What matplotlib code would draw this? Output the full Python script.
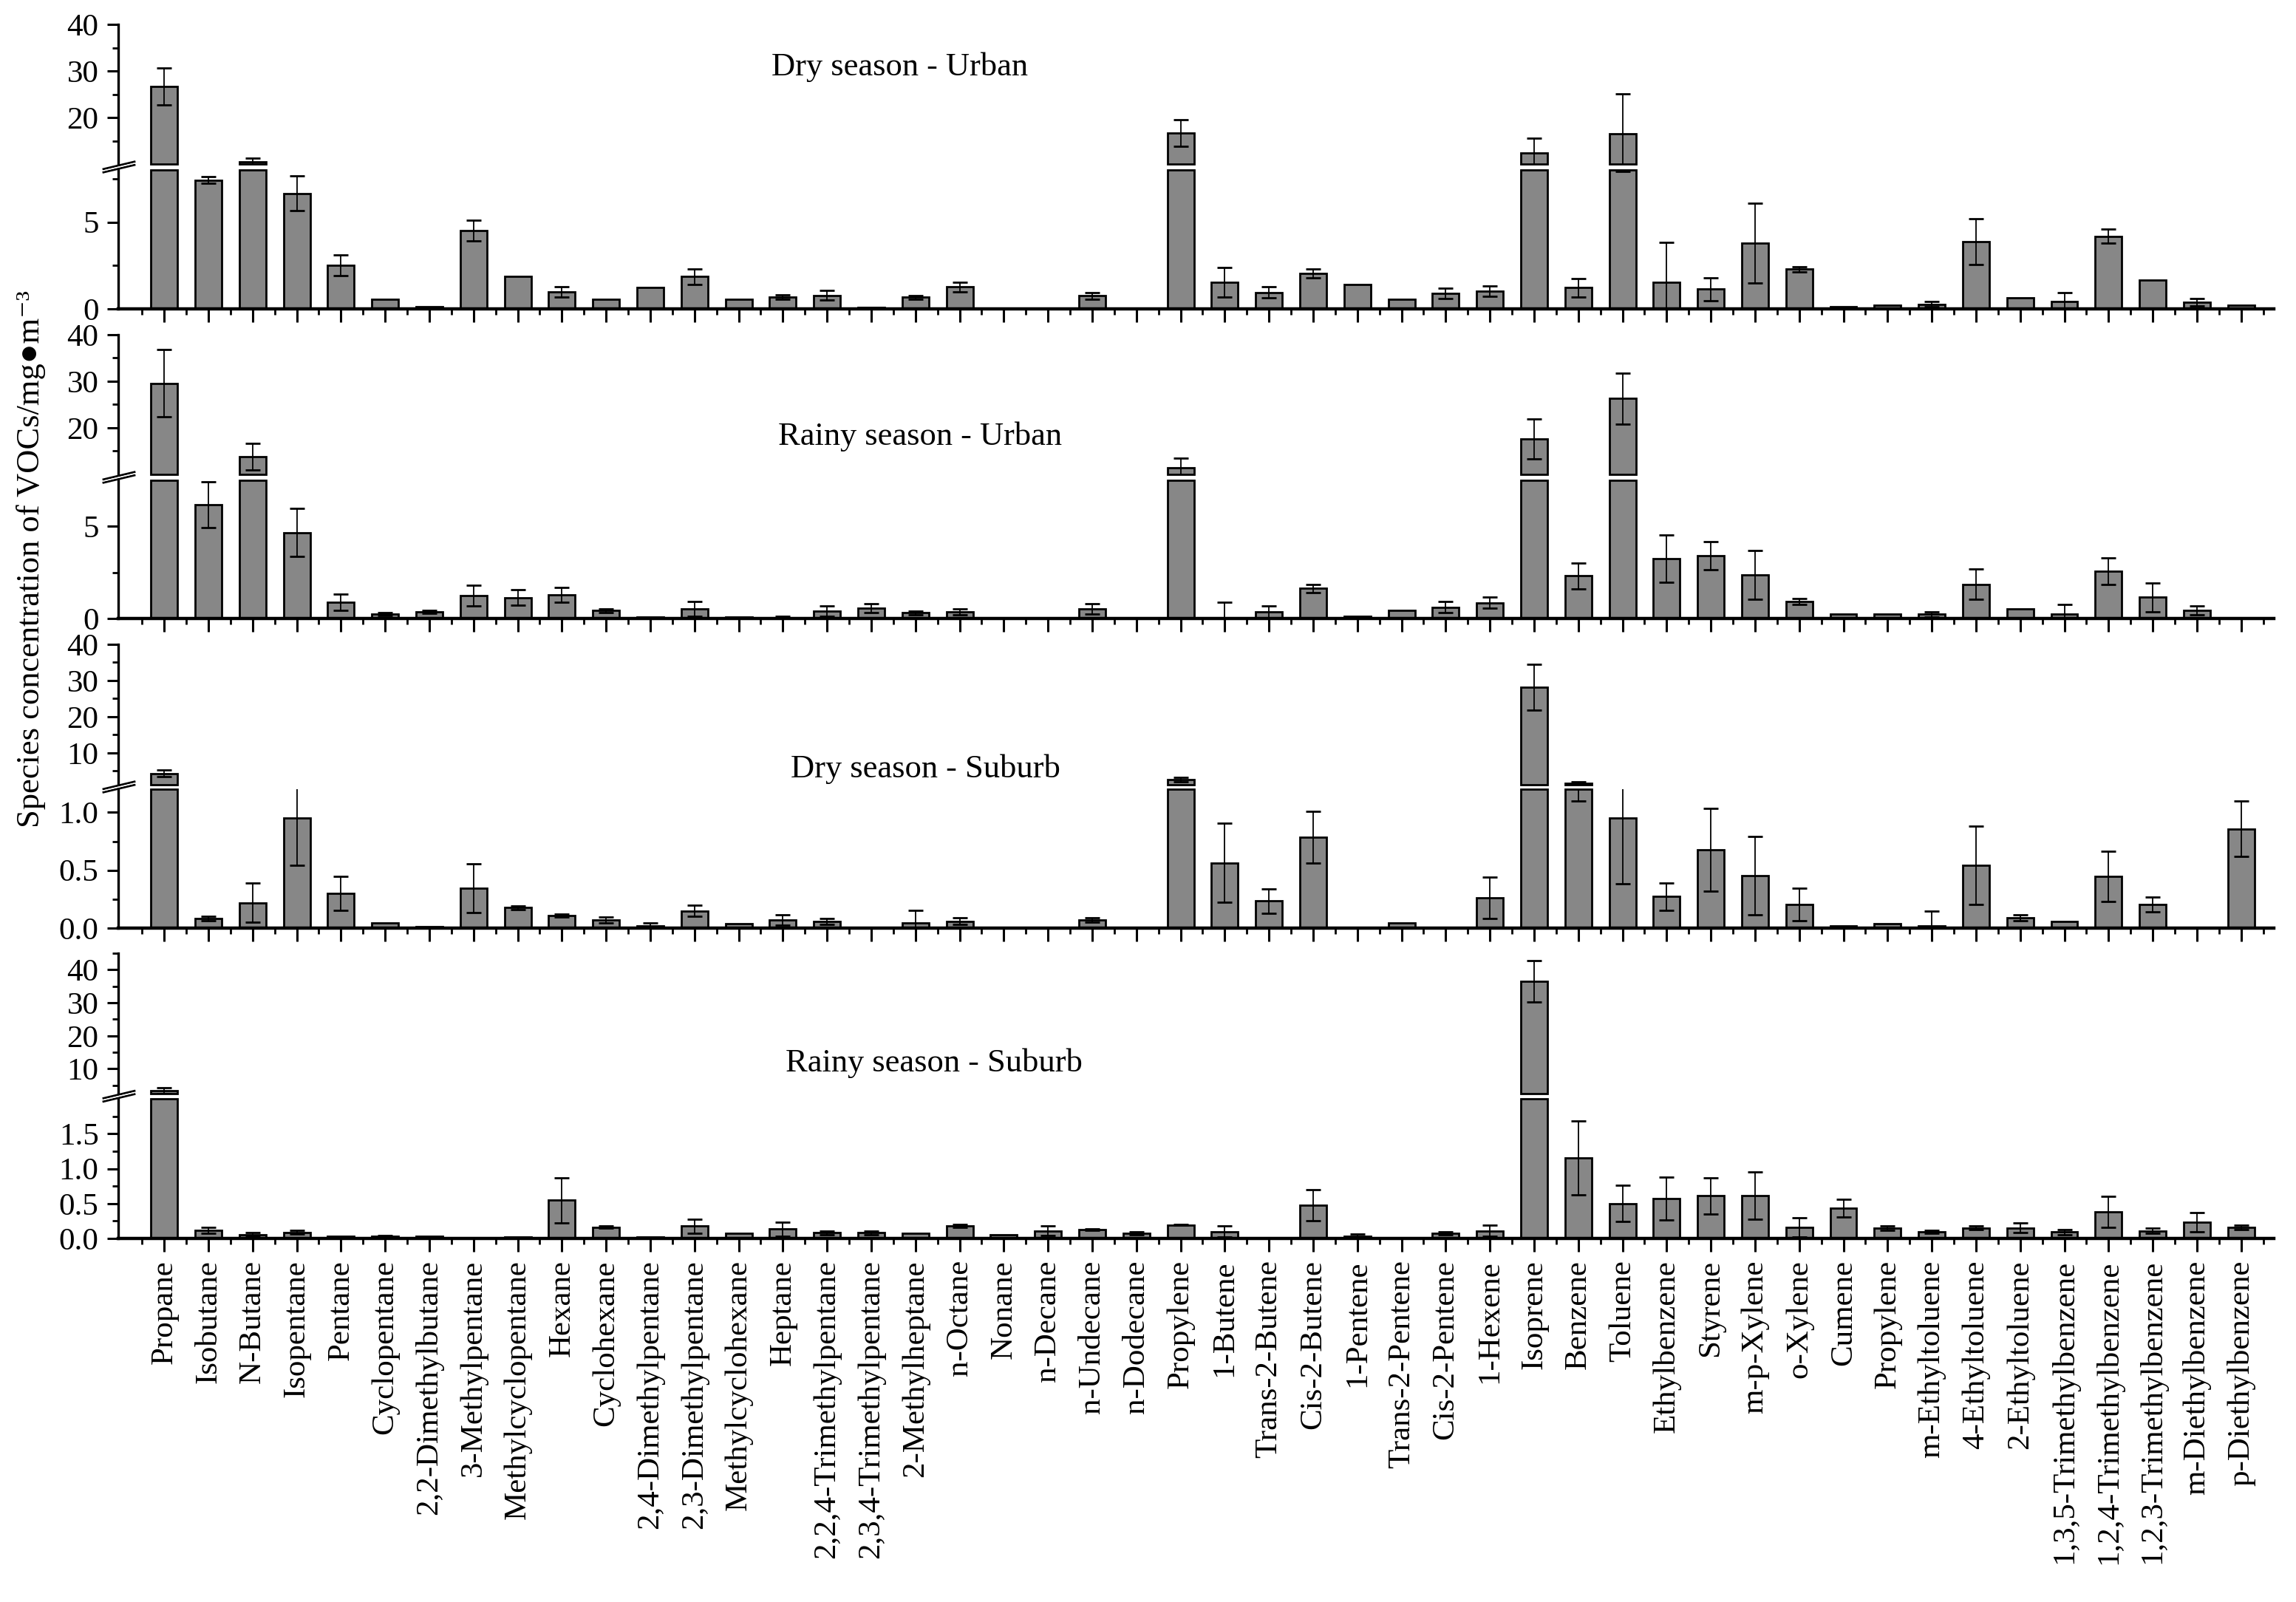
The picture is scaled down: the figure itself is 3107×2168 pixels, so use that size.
import matplotlib
matplotlib.use('Agg')
import matplotlib.pyplot as plt
from matplotlib.ticker import FixedLocator, FormatStrFormatter
from matplotlib.lines import Line2D
import numpy as np

categories = ['Propane', 'Isobutane', 'N-Butane', 'Isopentane', 'Pentane', 'Cyclopentane',
              '2,2-Dimethylbutane', '3-Methylpentane', 'Methylcyclopentane', 'Hexane',
              'Cyclohexane', '2,4-Dimethylpentane', '2,3-Dimethylpentane', 'Methylcyclohexane',
              'Heptane', '2,2,4-Trimethylpentane', '2,3,4-Trimethylpentane', '2-Methylheptane',
              'n-Octane', 'Nonane', 'n-Decane', 'n-Undecane', 'n-Dodecane', 'Propylene',
              '1-Butene', 'Trans-2-Butene', 'Cis-2-Butene', '1-Pentene', 'Trans-2-Pentene',
              'Cis-2-Pentene', '1-Hexene', 'Isoprene', 'Benzene', 'Toluene', 'Ethylbenzene',
              'Styrene', 'm-p-Xylene', 'o-Xylene', 'Cumene', 'Propylene', 'm-Ethyltoluene',
              '4-Ethyltoluene', '2-Ethyltoluene', '1,3,5-Trimethylbenzene',
              '1,2,4-Trimethylbenzene', '1,2,3-Trimethylbenzene', 'm-Diethylbenzene',
              'p-Diethylbenzene']

dry_urban = [26.7, 7.42, 10.4, 6.65, 2.5, 0.56, 0.12, 4.5, 1.87, 0.96, 0.56, 1.24, 1.86, 0.54,
             0.68, 0.77, 0.08, 0.66, 1.27, 0, 0, 0.75, 0, 16.7, 1.52, 0.94, 2.04, 1.39, 0.55,
             0.89, 1.04, 12.4, 1.23, 16.5, 1.55, 1.13, 3.8, 2.28, 0.11, 0.21, 0.27, 3.87, 0.63,
             0.41, 4.18, 1.65, 0.39, 0.21]
dry_urban_err = [4.0, 0.2, 0.8, 1.0, 0.6, 0, 0, 0.6, 0, 0.3, 0, 0, 0.45, 0, 0.14, 0.28, 0, 0.1,
                 0.28, 0, 0, 0.2, 0, 2.9, 0.85, 0.32, 0.24, 0, 0, 0.3, 0.3, 3.1, 0.53, 8.6, 2.3,
                 0.66, 2.3, 0.14, 0, 0, 0.15, 1.33, 0, 0.53, 0.4, 0, 0.2, 0]

rainy_urban = [29.6, 6.19, 13.8, 4.67, 0.89, 0.24, 0.37, 1.23, 1.13, 1.29, 0.44, 0.1, 0.53, 0.09,
               0.04, 0.42, 0.57, 0.32, 0.37, 0, 0, 0.53, 0, 11.5, 0.02, 0.38, 1.63, 0.12, 0.46,
               0.62, 0.86, 17.6, 2.32, 26.3, 3.25, 3.42, 2.36, 0.93, 0.23, 0.24, 0.23, 1.86,
               0.53, 0.23, 2.56, 1.15, 0.45, 0]
rainy_urban_err = [7.2, 1.24, 2.8, 1.3, 0.44, 0.08, 0.07, 0.56, 0.42, 0.41, 0.1, 0, 0.39, 0,
                   0.08, 0.28, 0.23, 0.1, 0.16, 0, 0, 0.27, 0, 2.0, 0.85, 0.32, 0.23, 0, 0, 0.3,
                   0.29, 4.3, 0.7, 5.5, 1.3, 0.76, 1.33, 0.16, 0, 0, 0.14, 0.82, 0, 0.54, 0.72,
                   0.77, 0.25, 0]

dry_suburb = [4.3, 0.085, 0.22, 0.953, 0.30, 0.043, 0.015, 0.347, 0.177, 0.11, 0.07, 0.02, 0.15,
              0.04, 0.07, 0.055, 0, 0.047, 0.06, 0, 0, 0.07, 0, 2.7, 0.564, 0.234, 0.787, 0,
              0.043, 0, 0.262, 28.2, 1.6, 0.953, 0.272, 0.677, 0.453, 0.202, 0.017, 0.038,
              0.017, 0.543, 0.09, 0.055, 0.447, 0.202, 0, 0.857]
dry_suburb_err = [0.9, 0.02, 0.17, 0.41, 0.145, 0, 0, 0.21, 0.015, 0.012, 0.025, 0.024, 0.05, 0,
                  0.047, 0.025, 0, 0.108, 0.03, 0, 0, 0.02, 0, 0.6, 0.34, 0.106, 0.223, 0, 0, 0,
                  0.18, 6.3, 0.5, 0.57, 0.117, 0.36, 0.336, 0.14, 0, 0, 0.13, 0.336, 0.025, 0,
                  0.22, 0.064, 0, 0.24]

rainy_suburb = [3.5, 0.116, 0.056, 0.088, 0.035, 0.035, 0.028, 0.01, 0.018, 0.546, 0.16, 0.018,
                0.175, 0.077, 0.133, 0.08, 0.08, 0.074, 0.18, 0.05, 0.11, 0.126, 0.077, 0.193,
                0.098, 0.01, 0.476, 0.028, 0, 0.077, 0.11, 36.5, 1.156, 0.5, 0.57, 0.613, 0.613,
                0.16, 0.438, 0.15, 0.095, 0.15, 0.15, 0.09, 0.378, 0.11, 0.23, 0.16]
rainy_suburb_err = [0.9, 0.045, 0.025, 0.025, 0, 0.01, 0, 0, 0, 0.32, 0.015, 0, 0.1, 0, 0.1,
                    0.025, 0.025, 0, 0.02, 0, 0.065, 0.014, 0.023, 0.007, 0.08, 0, 0.22, 0.04, 0,
                    0.023, 0.08, 6.2, 0.53, 0.26, 0.31, 0.26, 0.34, 0.14, 0.126, 0.03, 0.025,
                    0.025, 0.07, 0.04, 0.22, 0.035, 0.14, 0.03]

panel_titles = ['Dry season - Urban', 'Rainy season - Urban',
                'Dry season - Suburb', 'Rainy season - Suburb']
y_label = 'Species concentration of VOCs/mg\u25cfm\u207b\u00b3'

plt.rcParams['font.family'] = ['Liberation Serif', 'DejaVu Sans']

W, H = 3107, 2168
fig = plt.figure(figsize=(W / 100, H / 100), dpi=100)


def fx(px):
    return px / W


def fy(py):
    return 1 - py / H


x = np.arange(len(categories))
BAR_COLOR = '#878787'
LEFT, RIGHT = 160, 3077

panels = [
    dict(mean=dry_urban, err=dry_urban_err, up=(10, 40), low=(0, 8),
         up_major=[20, 30, 40], up_minor=[15, 25, 35], low_major=[0, 5], low_minor=[2.5, 7.5],
         low_fmt='%d', box=(33, 222, 230, 418), title_xy=(1218, 91)),
    dict(mean=rainy_urban, err=rainy_urban_err, up=(10, 40), low=(0, 7.5),
         up_major=[20, 30, 40], up_minor=[15, 25, 35], low_major=[0, 5], low_minor=[2.5],
         low_fmt='%d', box=(453, 642, 650, 837), title_xy=(1245, 591)),
    dict(mean=dry_suburb, err=dry_suburb_err, up=(1.2, 40), low=(0, 1.2),
         up_major=[10, 20, 30, 40], up_minor=[5, 15, 25, 35], low_major=[0, 0.5, 1.0],
         low_minor=[0.25, 0.75], low_fmt='%.1f', box=(872, 1062, 1068, 1256),
         title_xy=(1252, 1041)),
    dict(mean=rainy_suburb, err=rainy_suburb_err, up=(2.5, 45), low=(0, 2.0),
         up_major=[10, 20, 30, 40], up_minor=[5, 15, 25, 35, 45], low_major=[0, 0.5, 1.0, 1.5],
         low_minor=[0.25, 0.75, 1.25, 1.75], low_fmt='%.1f', box=(1290, 1480, 1487, 1676),
         title_xy=(1264, 1439)),
]

for i, p in enumerate(panels):
    up_top, up_bot, low_top, low_bot = p['box']
    ax_u = fig.add_axes([fx(LEFT), fy(up_bot), fx(RIGHT) - fx(LEFT), (up_bot - up_top) / H])
    ax_l = fig.add_axes([fx(LEFT), fy(low_bot), fx(RIGHT) - fx(LEFT), (low_bot - low_top) / H])
    mean = np.array(p['mean'], dtype=float)
    err = np.array(p['err'], dtype=float)
    up_lo, up_hi = p['up']
    low_lo, low_hi = p['low']

    # lower segment: bars capped at the segment top (closed edge at the break)
    ax_l.bar(x, np.minimum(mean, low_hi), width=0.6, color=BAR_COLOR, edgecolor='black',
             linewidth=2.0, zorder=2, clip_on=False)
    m_l = err > 0
    ax_l.errorbar(x[m_l], mean[m_l], yerr=err[m_l], fmt='none', ecolor='black',
                  elinewidth=1.3, capsize=7.5, capthick=2.0, zorder=3)

    # upper segment: only bars that reach it, starting at the segment bottom
    m_u = mean > up_lo
    ax_u.bar(x[m_u], mean[m_u] - up_lo, bottom=up_lo, width=0.6, color=BAR_COLOR,
             edgecolor='black', linewidth=2.0, zorder=2, clip_on=False)
    m_ue = m_u & (err > 0)
    ax_u.errorbar(x[m_ue], mean[m_ue], yerr=err[m_ue], fmt='none', ecolor='black',
                  elinewidth=1.3, capsize=7.5, capthick=2.0, zorder=3)

    for ax in (ax_u, ax_l):
        ax.set_xlim(-1.04, 47.74)
        ax.spines['top'].set_visible(False)
        ax.spines['right'].set_visible(False)
        ax.spines['left'].set_linewidth(2.4)
        ax.tick_params(axis='y', which='major', direction='out', length=11, width=2.2,
                       labelsize=31, pad=8)
        ax.tick_params(axis='y', which='minor', direction='out', length=5.5, width=2.0)
    ax_u.yaxis.set_major_formatter(FormatStrFormatter('%d'))
    ax_l.yaxis.set_major_formatter(FormatStrFormatter(p['low_fmt']))
    ax_u.set_ylim(up_lo, up_hi)
    ax_l.set_ylim(low_lo, low_hi)
    ax_u.yaxis.set_major_locator(FixedLocator(p['up_major']))
    ax_u.yaxis.set_minor_locator(FixedLocator(p['up_minor']))
    ax_l.yaxis.set_major_locator(FixedLocator(p['low_major']))
    ax_l.yaxis.set_minor_locator(FixedLocator(p['low_minor']))
    ax_u.spines['bottom'].set_visible(False)
    ax_u.tick_params(axis='x', which='both', bottom=False, labelbottom=False)
    ax_l.spines['bottom'].set_linewidth(3.2)
    ax_l.spines['bottom'].set_zorder(4)
    ax_l.set_xticks(x)
    ax_l.set_xticks(np.arange(-0.5, len(categories)), minor=True)
    ax_l.tick_params(axis='x', which='major', direction='out', length=13, width=2.2, pad=8)
    ax_l.tick_params(axis='x', which='minor', direction='out', length=6, width=2.0)
    if i == len(panels) - 1:
        ax_l.set_xticklabels(categories, rotation=90, fontsize=31, va='top', ha='center')
    else:
        ax_l.tick_params(axis='x', labelbottom=False)

    # break marks: two near-horizontal parallel strokes across the left axis
    yc = (up_bot + low_top) / 2
    for off in (-2.2, 2.2):
        fig.add_artist(Line2D([fx(LEFT - 20), fx(LEFT + 22)],
                              [fy(yc + 5 + off), fy(yc - 5 + off)],
                              color='black', lw=2.0, zorder=6))
    # white gap between the two strokes
    fig.add_artist(Line2D([fx(LEFT - 20), fx(LEFT + 22)], [fy(yc + 5), fy(yc - 5)],
                          color='white', lw=0.9, zorder=7))

    tx, ty = p['title_xy']
    fig.text(fx(tx), fy(ty), panel_titles[i], ha='center', va='center', fontsize=32)

fig.text(fx(42), fy(757), y_label, rotation=90, ha='center', va='center', fontsize=32)

fig.savefig('out.png', dpi=100)
